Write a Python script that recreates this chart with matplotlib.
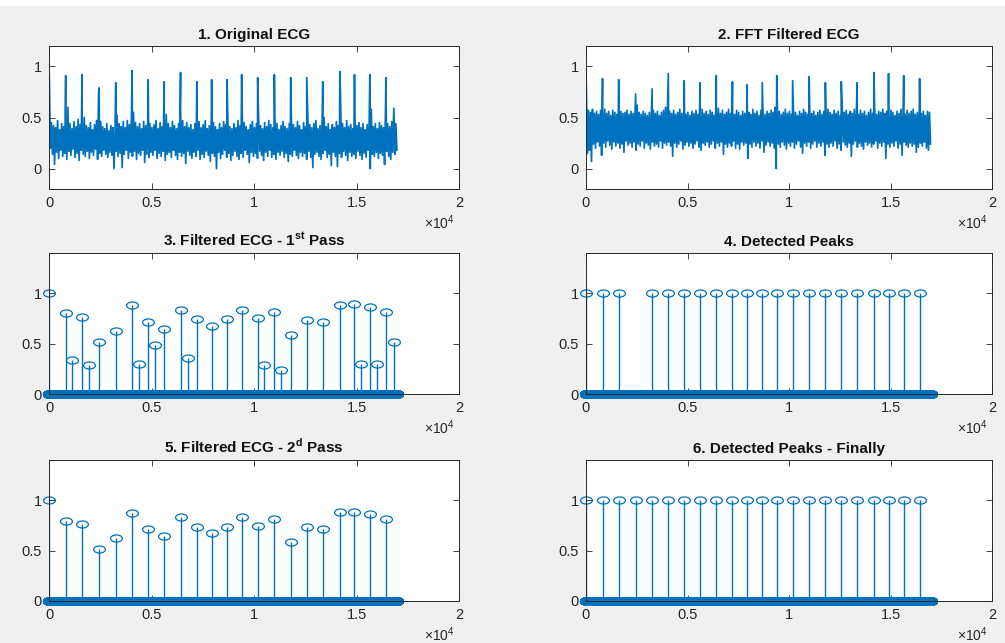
import numpy as np
import matplotlib
matplotlib.use('Agg')
import matplotlib.pyplot as plt
from matplotlib.path import Path
from matplotlib.transforms import Affine2D
from matplotlib.patches import Rectangle

plt.rcParams['font.family'] = ['Liberation Sans', 'DejaVu Sans']
plt.rcParams['mathtext.fontset'] = 'custom'
plt.rcParams['mathtext.rm'] = 'Liberation Sans'
plt.rcParams['mathtext.bf'] = 'Liberation Sans:bold'
plt.rcParams['font.size'] = 10
plt.rcParams['axes.linewidth'] = 0.7

BLUE = '#0072BD'
DARK = '#262626'

n_samples = 17000

# R-peak locations (samples) as seen in panels 5 and 6
peak_pos = [0, 814, 1612, 2443, 3257, 4055, 4837, 5619, 6417, 7215, 7932,
            8681, 9397, 10179, 10993, 11792, 12573, 13355, 14186, 14902,
            15651, 16433]

# panel 1: original ECG, spike heights at the peaks + band top/bottom per 100 samples
ecg1_peak = [1.0, 0.91, 0.92, 0.79, 0.84, 0.96, 0.87, 0.85, 0.94, 0.85, 0.87,
             0.87, 0.92, 0.89, 0.92, 0.89, 0.89, 0.85, 0.95, 0.92, 0.92, 0.89]
ecg1_hi = [
    0.85, 0.45, 0.42, 0.40, 0.47, 0.38, 0.44, 0.41, 0.50, 0.60,
    0.44, 0.39, 0.46, 0.41, 0.48, 0.43, 0.47, 0.50, 0.42, 0.40,
    0.45, 0.38, 0.43, 0.47, 0.74, 0.46, 0.41, 0.39, 0.44, 0.37,
    0.42, 0.40, 0.36, 0.52, 0.44, 0.41, 0.46, 0.40, 0.47, 0.43,
    0.48, 0.55, 0.45, 0.41, 0.44, 0.39, 0.46, 0.42, 0.50, 0.44,
    0.40, 0.43, 0.47, 0.39, 0.45, 0.41, 0.48, 0.53, 0.44, 0.40,
    0.46, 0.42, 0.39, 0.44, 0.55, 0.47, 0.41, 0.45, 0.40, 0.43,
    0.38, 0.44, 0.51, 0.46, 0.40, 0.43, 0.47, 0.39, 0.42, 0.50,
    0.45, 0.41, 0.38, 0.44, 0.40, 0.46, 0.43, 0.52, 0.41, 0.39,
    0.44, 0.40, 0.47, 0.42, 0.58, 0.45, 0.41, 0.38, 0.43, 0.46,
    0.40, 0.44, 0.53, 0.42, 0.39, 0.45, 0.41, 0.47, 0.43, 0.40,
    0.50, 0.44, 0.38, 0.42, 0.46, 0.41, 0.39, 0.44, 0.52, 0.43,
    0.40, 0.46, 0.42, 0.38, 0.45, 0.41, 0.55, 0.43, 0.40, 0.44,
    0.47, 0.39, 0.42, 0.45, 0.50, 0.41, 0.44, 0.38, 0.43, 0.40,
    0.46, 0.42, 0.72, 0.44, 0.40, 0.47, 0.41, 0.43, 0.39, 0.55,
    0.42, 0.45, 0.40, 0.44, 0.38, 0.43, 0.47, 0.58, 0.41, 0.44,
    0.39, 0.45, 0.42, 0.40, 0.65, 0.44, 0.41, 0.46, 0.59, 0.44,
]
ecg1_lo = [
    0.20, 0.14, 0.04, 0.16, 0.10, 0.18, 0.12, 0.15, 0.09, 0.17,
    0.13, 0.19, 0.11, 0.15, 0.08, 0.18, 0.14, 0.12, 0.17, 0.10,
    0.16, 0.13, 0.19, 0.09, 0.15, 0.12, 0.18, 0.14, 0.11, 0.16,
    0.13, 0.00, 0.17, 0.12, 0.15, 0.01, 0.14, 0.18, 0.10, 0.16,
    0.12, 0.17, 0.09, 0.15, 0.13, 0.18, 0.06, 0.14, 0.11, 0.16,
    0.13, 0.18, 0.10, 0.15, 0.12, 0.17, 0.08, 0.14, 0.16, 0.11,
    0.18, 0.13, 0.09, 0.16, 0.12, 0.15, 0.05, 0.17, 0.13, 0.10,
    0.16, 0.12, 0.18, 0.09, 0.14, 0.11, 0.17, 0.13, 0.07, 0.15,
    0.12, 0.00, 0.16, 0.10, 0.14, 0.18, 0.11, 0.15, 0.08, 0.13,
    0.17, 0.12, 0.09, 0.15, 0.11, 0.18, 0.14, 0.06, 0.16, 0.12,
    0.15, 0.10, 0.17, 0.13, 0.08, 0.16, 0.12, 0.18, 0.11, 0.14,
    0.09, 0.16, 0.13, 0.17, 0.11, 0.15, 0.07, 0.14, 0.12, 0.18,
    0.13, 0.10, 0.16, 0.12, 0.15, 0.09, 0.17, 0.11, 0.01, 0.14,
    0.16, 0.12, 0.09, 0.15, 0.18, 0.11, 0.14, 0.03, 0.16, 0.12,
    0.02, 0.15, 0.11, 0.17, 0.13, 0.08, 0.16, 0.12, 0.14, 0.10,
    0.17, 0.13, 0.09, 0.15, 0.11, 0.18, 0.00, 0.14, 0.12, 0.16,
    0.10, 0.15, 0.13, 0.04, 0.17, 0.12, 0.09, 0.16, 0.14, 0.18,
]

# panel 2: FFT filtered ECG
ecg2_peak = [1.0, 0.88, 0.87, 0.73, 0.78, 0.93, 0.86, 0.84, 0.91, 0.85, 0.82,
             0.84, 0.91, 0.86, 0.90, 0.84, 0.85, 0.84, 0.94, 0.93, 0.91, 0.88]
ecg2_hi = [
    0.76, 0.57, 0.55, 0.58, 0.54, 0.56, 0.53, 0.57, 0.55, 0.58,
    0.54, 0.56, 0.52, 0.57, 0.55, 0.53, 0.58, 0.56, 0.54, 0.55,
    0.57, 0.53, 0.56, 0.54, 0.58, 0.62, 0.55, 0.53, 0.56, 0.54,
    0.52, 0.55, 0.53, 0.57, 0.54, 0.56, 0.52, 0.55, 0.57, 0.60,
    0.63, 0.56, 0.54, 0.57, 0.53, 0.55, 0.58, 0.54, 0.56, 0.53,
    0.55, 0.52, 0.56, 0.54, 0.57, 0.53, 0.55, 0.58, 0.54, 0.56,
    0.53, 0.57, 0.55, 0.52, 0.56, 0.59, 0.54, 0.57, 0.53, 0.55,
    0.58, 0.54, 0.56, 0.53, 0.57, 0.55, 0.52, 0.56, 0.54, 0.57,
    0.55, 0.53, 0.58, 0.54, 0.56, 0.52, 0.57, 0.55, 0.53, 0.56,
    0.54, 0.57, 0.55, 0.60, 0.67, 0.56, 0.53, 0.55, 0.58, 0.54,
    0.56, 0.53, 0.57, 0.55, 0.52, 0.56, 0.54, 0.58, 0.55, 0.53,
    0.57, 0.54, 0.56, 0.52, 0.55, 0.57, 0.53, 0.56, 0.54, 0.58,
    0.55, 0.53, 0.57, 0.54, 0.56, 0.52, 0.62, 0.55, 0.57, 0.53,
    0.56, 0.54, 0.58, 0.55, 0.53, 0.57, 0.54, 0.56, 0.52, 0.55,
    0.58, 0.54, 0.57, 0.53, 0.56, 0.55, 0.58, 0.54, 0.56, 0.53,
    0.57, 0.55, 0.52, 0.56, 0.54, 0.58, 0.55, 0.53, 0.57, 0.54,
    0.56, 0.58, 0.53, 0.55, 0.57, 0.54, 0.56, 0.52, 0.56, 0.55,
]
ecg2_lo = [
    0.15, 0.18, 0.07, 0.24, 0.20, 0.26, 0.22, 0.13, 0.25, 0.21,
    0.27, 0.23, 0.19, 0.26, 0.22, 0.25, 0.20, 0.24, 0.16, 0.27,
    0.23, 0.25, 0.21, 0.26, 0.18, 0.24, 0.22, 0.27, 0.20, 0.25,
    0.23, 0.19, 0.26, 0.22, 0.24, 0.21, 0.27, 0.20, 0.25, 0.23,
    0.26, 0.22, 0.12, 0.25, 0.21, 0.24, 0.27, 0.19, 0.23, 0.26,
    0.22, 0.25, 0.20, 0.24, 0.27, 0.21, 0.18, 0.25, 0.23, 0.26,
    0.21, 0.24, 0.27, 0.20, 0.25, 0.22, 0.26, 0.14, 0.24, 0.21,
    0.25, 0.22, 0.27, 0.20, 0.24, 0.19, 0.26, 0.23, 0.25, 0.10,
    0.24, 0.21, 0.26, 0.22, 0.25, 0.20, 0.27, 0.16, 0.23, 0.26,
    0.22, 0.25, 0.20, 0.00, 0.24, 0.21, 0.26, 0.23, 0.19, 0.25,
    0.22, 0.26, 0.20, 0.24, 0.27, 0.21, 0.15, 0.25, 0.22, 0.26,
    0.20, 0.24, 0.27, 0.21, 0.25, 0.22, 0.26, 0.13, 0.24, 0.21,
    0.25, 0.22, 0.27, 0.20, 0.24, 0.18, 0.26, 0.23, 0.21, 0.25,
    0.12, 0.24, 0.27, 0.21, 0.25, 0.22, 0.19, 0.26, 0.23, 0.25,
    0.21, 0.24, 0.27, 0.20, 0.25, 0.22, 0.26, 0.10, 0.24, 0.21,
    0.25, 0.22, 0.27, 0.20, 0.24, 0.13, 0.26, 0.23, 0.21, 0.25,
    0.22, 0.24, 0.16, 0.21, 0.25, 0.22, 0.26, 0.20, 0.18, 0.24,
]

# panel 3: filtered ECG, first pass
pass1_pos = [0, 814, 1140, 1612, 1938, 2443, 3257, 4055, 4381, 4837, 5147,
             5619, 6417, 6759, 7215, 7932, 8681, 9397, 10179, 10472, 10993,
             11319, 11792, 12573, 13355, 14186, 14902, 15228, 15651, 16010,
             16433, 16824]
pass1_val = [1.0, 0.80, 0.34, 0.76, 0.29, 0.52, 0.63, 0.88, 0.30, 0.71, 0.49,
             0.65, 0.83, 0.36, 0.74, 0.68, 0.74, 0.83, 0.75, 0.29, 0.81,
             0.24, 0.59, 0.73, 0.71, 0.88, 0.89, 0.30, 0.86, 0.30, 0.81, 0.52]

# panel 4: detected peaks after first pass (one beat missed)
detect1_pos = [0, 814, 1612, 3257, 4055, 4837, 5619, 6417, 7215, 7932, 8681,
               9397, 10179, 10993, 11792, 12573, 13355, 14186, 14902, 15651,
               16433]

# panel 5: filtered ECG, second pass
pass2_val = [1.0, 0.79, 0.76, 0.52, 0.63, 0.87, 0.71, 0.65, 0.83, 0.73, 0.68,
             0.73, 0.83, 0.74, 0.81, 0.59, 0.73, 0.71, 0.88, 0.88, 0.86, 0.81]

titles = ['1. Original ECG', '2. FFT Filtered ECG',
          r'3. Filtered ECG - 1$^{\mathbf{st}}$ Pass', '4. Detected Peaks',
          r'5. Filtered ECG - 2$^{\mathbf{d}}$ Pass', '6. Detected Peaks - Finally']

# MATLAB-like open circle, squashed as in the screenshot
ell = Path.unit_circle().transformed(Affine2D().scale(1.0, 0.6))


def ecg_series(peaks, hi, lo):
    bins = np.arange(len(hi)) * 100
    x = np.concatenate([peak_pos, bins + 20, bins + 70])
    y = np.concatenate([peaks, hi, lo])
    order = np.argsort(x, kind='stable')
    return x[order], y[order]


def sparse_signal(pos, val):
    s = np.zeros(n_samples)
    s[np.asarray(pos)] = val
    return s


def style(ax, ylim, yticks):
    ax.set_xlim(0, 20000)
    ax.set_ylim(*ylim)
    xt = np.arange(0, 20001, 5000)
    ax.set_xticks(xt)
    ax.set_xticklabels([f'{t / 1e4:g}' for t in xt])
    ax.set_yticks(yticks)
    ax.set_yticklabels([f'{t:g}' for t in yticks])
    ax.tick_params(direction='in', length=4, width=0.6, colors=DARK,
                   labelsize=10.5, top=True, right=True, pad=5)
    for sp in ax.spines.values():
        sp.set_color(DARK)
        sp.set_linewidth(0.7)
    ax.annotate(r'$\times10^{4}$', xy=(1, 0), xycoords='axes fraction',
                xytext=(-3, -24), textcoords='offset points',
                ha='right', va='center', fontsize=10, color=DARK)


fig = plt.figure(figsize=(10.05, 6.43), dpi=100, facecolor='#f0f0f0')
fig.patches.append(Rectangle((0, 1 - 6 / 643), 1, 6 / 643, transform=fig.transFigure,
                             facecolor='white', edgecolor='none', zorder=-1))

W, H = 1005, 643
cols = [(49, 410), (586, 406)]
rows = [(46, 143), (253, 141), (460, 141)]
axes = []
for r, (top, h) in enumerate(rows):
    for c, (left, w) in enumerate(cols):
        axes.append(fig.add_axes([left / W, 1 - (top + h) / H, w / W, h / H]))

# signals
for ax, (pk, hi, lo) in zip(axes[:2], [(ecg1_peak, ecg1_hi, ecg1_lo),
                                       (ecg2_peak, ecg2_hi, ecg2_lo)]):
    x, y = ecg_series(pk, hi, lo)
    ax.plot(x, y, color=BLUE, lw=1.25)
    style(ax, (-0.2, 1.2), [0, 0.5, 1])

stems = [
    sparse_signal(pass1_pos, pass1_val),
    sparse_signal(detect1_pos, 1.0),
    sparse_signal(peak_pos, pass2_val),
    sparse_signal(peak_pos, 1.0),
]
xs = np.arange(n_samples)
for ax, s in zip(axes[2:], stems):
    ml, sl, bl = ax.stem(xs, s, basefmt=' ')
    sl.set_color(BLUE)
    sl.set_linewidth(1.0)
    ml.set_marker(ell)
    ml.set_markersize(8.5)
    ml.set_markerfacecolor('none')
    ml.set_markeredgecolor(BLUE)
    ml.set_markeredgewidth(0.9)
    ml.set_clip_on(False)
    style(ax, (0, 1.4), [0, 0.5, 1])

for ax, t in zip(axes, titles):
    ax.set_title(t, fontsize=11, fontweight='bold', color='#111111', pad=5)

fig.savefig('out.png', dpi=100, facecolor=fig.get_facecolor())
